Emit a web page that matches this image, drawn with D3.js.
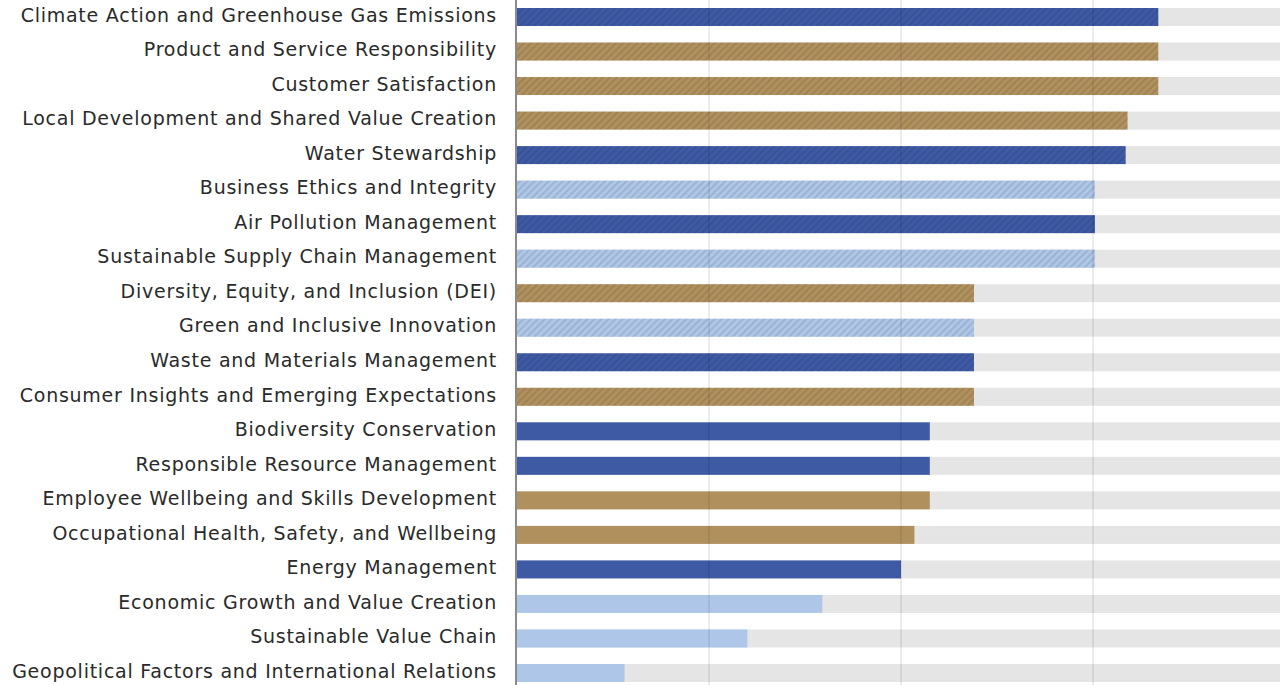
<!DOCTYPE html>
<meta charset="utf-8">
<style>
    body { margin: 0; background: #fff; }
    text { font-family: "DejaVu Sans", sans-serif; }
</style>
<body>
<script src="https://cdn.jsdelivr.net/npm/d3@7"></script>
<script>

var topics = [
  "Climate Action and Greenhouse Gas Emissions",
  "Product and Service Responsibility",
  "Customer Satisfaction",
  "Local Development and Shared Value Creation",
  "Water Stewardship",
  "Business Ethics and Integrity",
  "Air Pollution Management",
  "Sustainable Supply Chain Management",
  "Diversity, Equity, and Inclusion (DEI)",
  "Green and Inclusive Innovation",
  "Waste and Materials Management",
  "Consumer Insights and Emerging Expectations",
  "Biodiversity Conservation",
  "Responsible Resource Management",
  "Employee Wellbeing and Skills Development",
  "Occupational Health, Safety, and Wellbeing",
  "Energy Management",
  "Economic Growth and Value Creation",
  "Sustainable Value Chain",
  "Geopolitical Factors and International Relations"
];

var scores = [3.34, 3.34, 3.34, 3.18, 3.17, 3.01, 3.01, 3.01, 2.38, 2.38, 2.38, 2.38,
              2.15, 2.15, 2.15, 2.07, 2.0, 1.59, 1.2, 0.56];

// E = environmental, S = social, G = economic / governance
var dimension = ["E", "S", "S", "S", "E", "G", "E", "G", "S", "G", "E", "S",
                 "E", "E", "S", "S", "E", "G", "G", "G"];

// hatched = top priority group
var hatched = [1, 1, 1, 1, 1, 1, 1, 1, 1, 1, 1, 1, 0, 0, 0, 0, 0, 0, 0, 0];

var maxScore = 4;
var gridTicks = [1, 2, 3];

var data = topics.map(function(t, i) {
  return { topic: t, score: scores[i], dim: dimension[i], hatch: hatched[i] };
});

var width = 1280, height = 685;

var svg = d3.select("body").append("svg")
    .attr("width", width)
    .attr("height", height);

var defs = svg.append("defs");
var pattern = defs.append("pattern")
    .attr("id", "hatch")
    .attr("patternUnits", "userSpaceOnUse")
    .attr("width", 5)
    .attr("height", 5)
    .attr("patternTransform", "rotate(45)");
pattern.append("line")
    .attr("x1", 1).attr("y1", 0)
    .attr("x2", 1).attr("y2", 5)
    .attr("stroke", "rgba(0,0,0,0.16)")
    .attr("stroke-width", 1.2);

var x = d3.scaleLinear()
    .domain([0, maxScore])
    .range([517, 1285]);

var y = d3.scaleBand()
    .domain(topics)
    .range([8, 682])
    .paddingInner(0.479)
    .paddingOuter(0);

var color = d3.scaleOrdinal()
    .domain(["E", "S", "G"])
    .range(["#3f5aa5", "#b0915e", "#aec7e8"]);

// background tracks
svg.selectAll("rect.track")
    .data(data)
  .enter().append("rect")
    .attr("class", "track")
    .attr("x", x(0))
    .attr("y", function(d) { return y(d.topic); })
    .attr("width", x(maxScore) - x(0))
    .attr("height", y.bandwidth())
    .attr("fill", "#e5e5e5");

svg.selectAll("rect.bar")
    .data(data)
  .enter().append("rect")
    .attr("class", "bar")
    .attr("x", x(0))
    .attr("y", function(d) { return y(d.topic); })
    .attr("width", function(d) { return x(d.score) - x(0); })
    .attr("height", y.bandwidth())
    .attr("fill", function(d) { return color(d.dim); });

svg.selectAll("rect.hatch")
    .data(data.filter(function(d) { return d.hatch; }))
  .enter().append("rect")
    .attr("class", "hatch")
    .attr("x", x(0))
    .attr("y", function(d) { return y(d.topic); })
    .attr("width", function(d) { return x(d.score) - x(0); })
    .attr("height", y.bandwidth())
    .attr("fill", "url(#hatch)");

// gridlines on top
svg.selectAll("line.grid")
    .data(gridTicks)
  .enter().append("line")
    .attr("class", "grid")
    .attr("x1", function(d) { return x(d); })
    .attr("x2", function(d) { return x(d); })
    .attr("y1", 0)
    .attr("y2", height)
    .attr("stroke", "rgba(0,0,0,0.1)")
    .attr("stroke-width", 1.5);

// y axis
var yAxis = svg.append("g")
    .attr("transform", "translate(" + (x(0) - 1) + ",0)")
    .call(d3.axisLeft(y).tickSize(0).tickPadding(19));

yAxis.select(".domain")
    .attr("d", "M0,0V" + height)
    .attr("stroke", "#8a8a8a")
    .attr("stroke-width", 2);

yAxis.selectAll("text")
    .attr("font-family", "'DejaVu Sans', sans-serif")
    .attr("font-size", 19)
    .attr("letter-spacing", "0.75px")
    .attr("fill", "#2a2a2a")
    .attr("dy", "0.25em");

</script>
</body>
